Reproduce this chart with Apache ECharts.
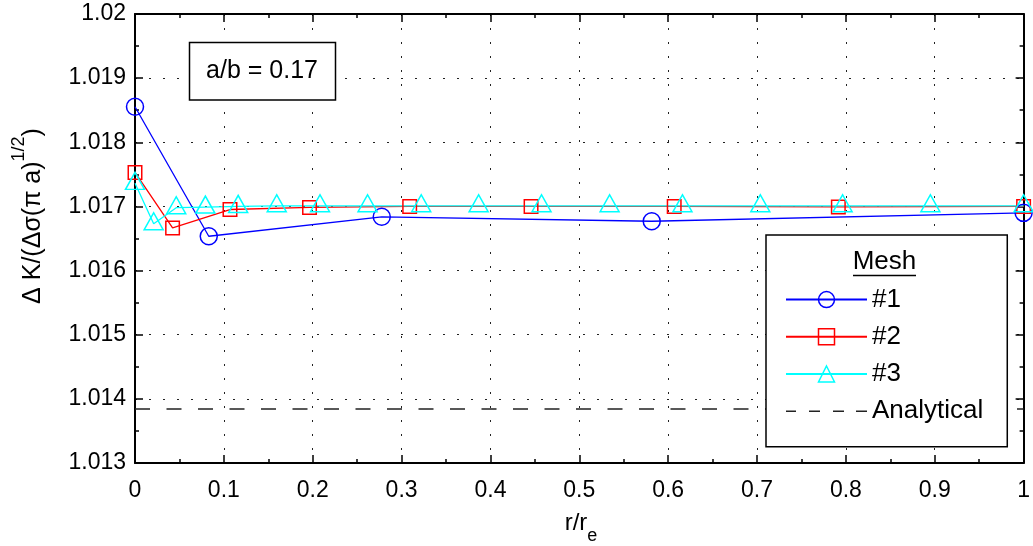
<!DOCTYPE html>
<html><head><meta charset="utf-8">
<script src="https://cdn.jsdelivr.net/npm/echarts@6/dist/echarts.min.js"></script>
<style>html,body{margin:0;padding:0;background:#fff}#c{width:1033px;height:546px}</style>
</head><body><div id="c"></div>
<script>
// ---- data ----
const mesh1X = [0, 0.083, 0.2777, 0.5815, 1];
const mesh1Y = [1.018554, 1.016535, 1.016838, 1.016769, 1.0169];
const mesh2X = [0, 0.0423, 0.1069, 0.1964, 0.3091, 0.4457, 0.6068, 0.7915, 1];
const mesh2Y = [1.01753, 1.016664, 1.016952, 1.016984, 1.017, 1.017, 1.017, 1.016992, 1.017];
const mesh3X = [0, 0.021, 0.0464, 0.0792, 0.1161, 0.1595, 0.2082, 0.2617, 0.3221, 0.3867, 0.4575, 0.5341, 0.6161, 0.7037, 0.7963, 0.8951, 1];
const mesh3Y = [1.01736, 1.01673, 1.01698, 1.01699, 1.017, 1.01701, 1.01701, 1.01701, 1.01701, 1.01701, 1.01701, 1.01701, 1.01701, 1.01701, 1.01701, 1.01701, 1.01701];
const analyticalX = [0, 1];
const analyticalY = [1.013842, 1.013842];
const seriesNames = ['#1', '#2', '#3', 'Analytical'];
const legendTitle = 'Mesh';
const annotationText = 'a/b = 0.17';
const xTitleMain = 'r/r', xTitleSub = 'e';
const yTitleMain = 'Δ K/(Δσ(π a)', yTitleSup = '1/2', yTitleEnd = ')';
const xRange = [0, 1, 0.1];
const yRange = [1.013, 1.02, 0.001];

const FONT = '"Liberation Sans", Arial, Helvetica, sans-serif';
const zip = (xs, ys) => xs.map((x, i) => [x, ys[i]]);

const tickStyle = { lineStyle: { color: '#000', width: 1.5 } };
const gridLine = { color: '#222', width: 1, type: [2, 12] };
function xAx(pos, labels) {
  return {
    type: 'value', position: pos, min: xRange[0], max: xRange[1], interval: xRange[2],
    axisLine: { show: true, onZero: false, lineStyle: { color: '#000', width: 2 } },
    axisTick: Object.assign({ show: true, inside: true, length: 8 }, tickStyle),
    minorTick: Object.assign({ show: true, splitNumber: 2, length: 4 }, tickStyle),
    axisLabel: { show: labels, color: '#000', fontSize: 23, fontFamily: FONT, margin: 16,
      formatter: v => String(+v.toFixed(1)) },
    splitLine: { show: labels, lineStyle: gridLine },
    minorSplitLine: { show: false }
  };
}
function yAx(pos, labels) {
  return {
    type: 'value', position: pos, min: yRange[0], max: yRange[1], interval: yRange[2],
    axisLine: { show: true, onZero: false, lineStyle: { color: '#000', width: 2 } },
    axisTick: Object.assign({ show: true, inside: true, length: 8 }, tickStyle),
    minorTick: Object.assign({ show: true, splitNumber: 2, length: 4 }, tickStyle),
    axisLabel: { show: labels, color: '#000', fontSize: 23, fontFamily: FONT, margin: 9,
      formatter: v => String(+v.toFixed(3)) },
    splitLine: { show: labels, lineStyle: gridLine },
    minorSplitLine: { show: false }
  };
}
function meshSeries(name, xs, ys, color, symbol, size, offset) {
  return {
    name, type: 'line', data: zip(xs, ys), xAxisIndex: 0, yAxisIndex: 0,
    symbol, symbolSize: size, symbolOffset: offset || [0, 0], showSymbol: true, showAllSymbol: true,
    clip: false, silent: true, animation: false,
    lineStyle: { color, width: 1.3 },
    itemStyle: { color: 'rgba(0,0,0,0)', borderColor: color, borderWidth: 1.5 },
    emphasis: { disabled: true }
  };
}
const dashIcon = 'path://M0,0h10v1.6h-10z M23,0h11v1.6h-11z M47,0h11v1.6h-11z M70,0h11v1.6h-11z';

const option = {
  backgroundColor: '#fff',
  animation: false,
  grid: { left: 135, right: 5, top: 14, bottom: 83 },
  xAxis: [xAx('bottom', true), xAx('top', false)],
  yAxis: [yAx('left', true), yAx('right', false)],
  legend: {
    left: 766, top: 235, orient: 'vertical',
    itemWidth: 81, itemHeight: 20, itemGap: 0,
    padding: [46, 24, 17, 19],
    backgroundColor: '#fff', borderColor: '#000', borderWidth: 1.5, borderRadius: 0,
    selectedMode: false,
    itemStyle: { borderWidth: 1.5 },
    textStyle: { fontSize: 26, fontFamily: FONT, color: '#000', lineHeight: 37.2 },
    data: [{ name: seriesNames[0] }, { name: seriesNames[1] }, { name: seriesNames[2] },
           { name: seriesNames[3], icon: dashIcon }]
  },
  series: [
    meshSeries(seriesNames[0], mesh1X, mesh1Y, '#0000ff', 'circle', 17),
    meshSeries(seriesNames[1], mesh2X, mesh2Y, '#ff0000', 'rect', 13.5),
    meshSeries(seriesNames[2], mesh3X, mesh3Y, '#00ffff', 'triangle', [19, 17], [0, -2.5]),
    {
      name: seriesNames[3], type: 'line', data: zip(analyticalX, analyticalY),
      symbol: 'none', silent: true, animation: false,
      lineStyle: { color: '#222', width: 1.5, type: [15, 16.5] },
      itemStyle: { color: '#222' }, emphasis: { disabled: true }
    }
  ],
  graphic: [
    { type: 'rect', z: 100, shape: { x: 189.5, y: 42.5, width: 146, height: 57.5 },
      style: { fill: '#fff', stroke: '#000', lineWidth: 1.5 } },
    { type: 'text', z: 101, x: 262, y: 71,
      style: { text: annotationText, font: '25px ' + FONT, fill: '#000', align: 'center', verticalAlign: 'middle' } },
    { type: 'text', z: 101, x: 884.5, y: 262,
      style: { text: legendTitle, font: '26px ' + FONT, fill: '#000', align: 'center', verticalAlign: 'middle' } },
    { type: 'line', z: 101, shape: { x1: 853, y1: 275.5, x2: 916, y2: 275.5 },
      style: { stroke: '#000', lineWidth: 1.5 } },
    { type: 'text', z: 101, x: 581, y: 528,
      style: { text: '{m|' + xTitleMain + '}{s|' + xTitleSub + '}', align: 'center', verticalAlign: 'middle', fill: '#000',
        rich: { m: { fontSize: 24, fontFamily: FONT, verticalAlign: 'top', lineHeight: 34 },
                s: { fontSize: 18, fontFamily: FONT, verticalAlign: 'bottom', lineHeight: 34 } } } },
    { type: 'text', z: 101, x: 28, y: 216, rotation: Math.PI / 2,
      style: { text: '{m|' + yTitleMain + '}{s|' + yTitleSup + '}{m|' + yTitleEnd + '}', align: 'center', verticalAlign: 'middle', fill: '#000',
        rich: { m: { fontSize: 25, fontFamily: FONT, verticalAlign: 'bottom', lineHeight: 36 },
                s: { fontSize: 18, fontFamily: FONT, verticalAlign: 'top', lineHeight: 36 } } } }
  ]
};
const chart = echarts.init(document.getElementById('c'), null, { renderer: 'canvas' });
chart.setOption(option);
</script></body></html>
